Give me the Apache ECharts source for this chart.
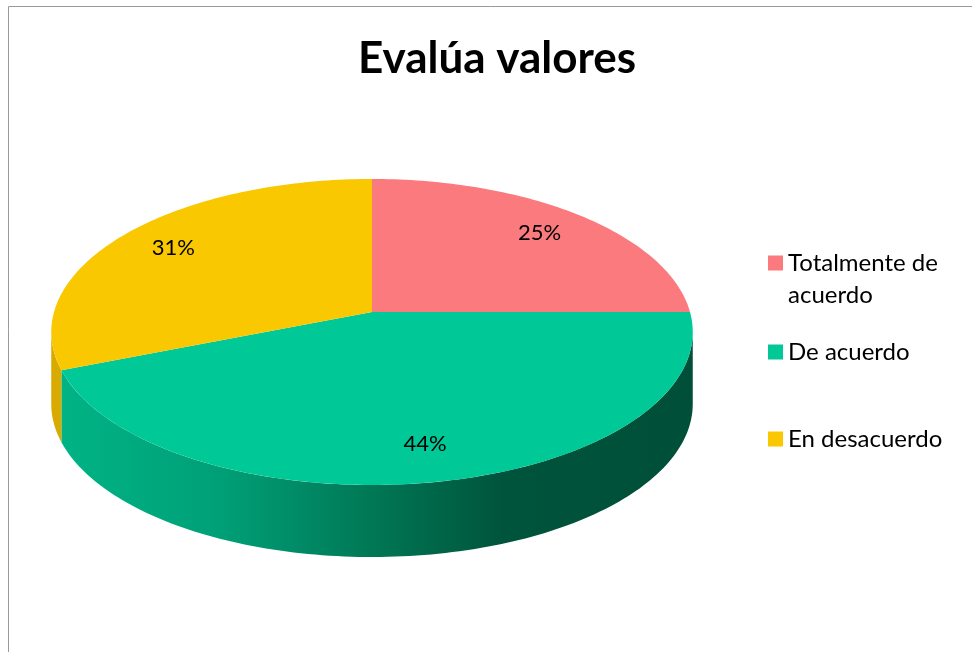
<!DOCTYPE html>
<html>
<head>
<meta charset="utf-8">
<script src="https://cdn.jsdelivr.net/npm/echarts@6/dist/echarts.min.js"></script>
<style>
  html, body { margin: 0; padding: 0; background: #fff; }
  #chart { width: 972px; height: 652px; }
</style>
</head>
<body>
<div id="chart"></div>
<script>
  // datos del gráfico
  var categories = ['Totalmente de acuerdo', 'De acuerdo', 'En desacuerdo'];
  var values = [25, 44, 31];
  var topColors = ['#fa7a7d', '#00c896', '#f9c800'];
  var sideColors = ['#d86468', '#00a87c', '#d9aa00'];

  // geometría de la tarta en perspectiva
  var CX = 372, CY = 312, RX = 318, RY = 150.4, K = 0.1307, DEPTH = 72;
  var total = values.reduce(function (a, b) { return a + b; }, 0);
  var VIS0 = Math.acos(-K), VIS1 = 2 * Math.PI - Math.acos(-K);

  function proj(theta, t, dy) {
    var u = t * Math.sin(theta), w = t * Math.cos(theta);
    var d = 1 + K * w;
    return [CX + RX * u / d, CY - RY * w / d + (dy || 0)];
  }

  function arc(a0, a1, dy) {
    var pts = [];
    var n = Math.max(2, Math.ceil((a1 - a0) / 0.02));
    for (var i = 0; i <= n; i++) {
      pts.push(proj(a0 + (a1 - a0) * i / n, 1, dy));
    }
    return pts;
  }

  function renderSlice(idx) {
    return function (params, api) {
      var before = 0;
      for (var i = 0; i < idx; i++) before += values[i];
      var a0 = before / total * 2 * Math.PI;
      var a1 = (before + api.value(0)) / total * 2 * Math.PI;
      var children = [];

      // cara lateral visible
      var s0 = Math.max(a0, VIS0), s1 = Math.min(a1, VIS1);
      if (s1 > s0) {
        var topArc = arc(s0, s1, 0);
        var botArc = arc(s0, s1, DEPTH).reverse();
        var fill = idx === 1
          ? new echarts.graphic.LinearGradient(0, 0, 1, 0, [
              { offset: 0, color: '#00b385' },
              { offset: 0.25, color: '#00a077' },
              { offset: 0.5, color: '#007654' },
              { offset: 0.7, color: '#00543b' },
              { offset: 1, color: '#004f38' }
            ])
          : sideColors[idx];
        children.push({
          type: 'polygon',
          z2: 1,
          shape: { points: topArc.concat(botArc) },
          style: { fill: fill }
        });
      }

      // cara superior
      var pts = [[CX, CY]].concat(arc(a0, a1, 0));
      children.push({
        type: 'polygon',
        z2: 5,
        shape: { points: pts },
        style: { fill: topColors[idx] }
      });

      // etiqueta de porcentaje
      var mid = (a0 + a1) / 2;
      var lp = proj(mid, 0.8, 0);
      children.push({
        type: 'text',
        z2: 10,
        x: lp[0],
        y: lp[1],
        style: {
          text: Math.round(api.value(0) / total * 100) + '%',
          fill: '#000',
          font: '22px Lato',
          align: 'center',
          verticalAlign: 'middle'
        }
      });

      return { type: 'group', children: children };
    };
  }

  var chart = echarts.init(document.getElementById('chart'));

  var series = categories.map(function (name, i) {
    return {
      type: 'custom',
      name: name,
      coordinateSystem: 'none',
      itemStyle: { color: topColors[i] },
      renderItem: renderSlice(i),
      data: [[values[i]]]
    };
  });

  var legendBase = {
    orient: 'vertical',
    left: 768,
    padding: 0,
    itemWidth: 15,
    itemHeight: 15,
    icon: 'rect',
    selectedMode: false,
    textStyle: { fontFamily: 'Lato', fontSize: 24, color: '#000', lineHeight: 32 }
  };

  var option = {
    backgroundColor: '#fff',
    animation: false,
    title: {
      text: 'Evalúa valores',
      left: 492,
      top: 32,
      textAlign: 'center',
      textStyle: { fontFamily: 'Lato', fontWeight: 'bold', fontSize: 44, color: '#000' }
    },
    legend: [
      Object.assign({}, legendBase, {
        data: [categories[0]],
        top: 215,
        // línea vacía arriba para que el cuadro quede junto a la primera línea
        formatter: function () { return '\nTotalmente de\nacuerdo'; }
      }),
      Object.assign({}, legendBase, { data: [categories[1]], top: 336 }),
      Object.assign({}, legendBase, { data: [categories[2]], top: 423 })
    ],
    graphic: [{
      type: 'rect',
      silent: true,
      shape: { x: 8.5, y: 6.5, width: 1000, height: 700 },
      style: { fill: 'none', stroke: '#9a9a9a', lineWidth: 1 }
    }],
    series: series
  };

  chart.setOption(option);
</script>
</body>
</html>
